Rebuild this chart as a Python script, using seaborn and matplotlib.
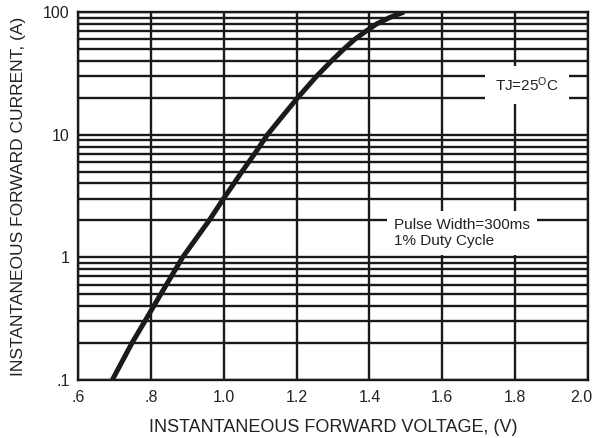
import numpy as np
import pandas as pd
import matplotlib
matplotlib.use("Agg")
import matplotlib.pyplot as plt
import matplotlib.ticker as mticker
import matplotlib.transforms as mtransforms
import seaborn as sns

# forward voltage (V) vs instantaneous forward current (A)
voltage = [0.694, 0.748, 0.783, 0.827, 0.887, 0.960, 0.999, 1.028, 1.050,
           1.085, 1.120, 1.160, 1.203, 1.255, 1.296, 1.330, 1.360, 1.391,
           1.420, 1.455, 1.495]
current = [0.1, 0.2, 0.3, 0.5, 1.0, 2.0, 3.0, 4.0, 5.0,
           7.0, 10.0, 14.0, 20.0, 30.0, 40.0, 50.0, 60.0, 70.0,
           80.0, 90.0, 100.0]

x_ticks = [0.6, 0.8, 1.0, 1.2, 1.4, 1.6, 1.8, 2.0]
x_tick_labels = [".6", ".8", "1.0", "1.2", "1.4", "1.6", "1.8", "2.0"]
y_ticks = [0.1, 1, 10, 100]
y_tick_labels = [".1", "1", "10", "100"]

df = pd.DataFrame({"Voltage": voltage, "Current": current})

sns.set_style("white")
plt.rcParams['font.family'] = ['Liberation Sans', 'DejaVu Sans']
plt.rcParams['mathtext.default'] = 'regular'

fig = plt.figure(figsize=(5.97, 4.38), dpi=100)
ax = fig.add_axes([0.1307, 0.1324, 0.8543, 0.8402])

ax.set_yscale("log")
ax.set_xlim(0.6, 2.0)
ax.set_ylim(0.1, 100)

# grid: every 0.2 V vertically, every 1..9 per decade horizontally
ax.set_xticks(x_ticks)
ax.set_xticklabels(x_tick_labels)
ax.set_yticks(y_ticks)
ax.set_yticklabels(y_tick_labels)
ax.yaxis.set_minor_locator(mticker.LogLocator(base=10, subs=np.arange(2, 10)))
ax.yaxis.set_minor_formatter(mticker.NullFormatter())
ax.grid(True, which="both", axis="both", color="#1a1a1a", linewidth=1.7)
ax.tick_params(axis="both", which="both", length=0, labelsize=11.5, colors="#222222")
ax.tick_params(axis="x", pad=7)
ax.tick_params(axis="y", pad=6)
ax.set_axisbelow(True)

# last x label sits a little inside the figure edge, as in the original
shift = mtransforms.ScaledTranslation(-5 / 72, 0, fig.dpi_scale_trans)
last = ax.get_xticklabels()[-1]
last.set_transform(last.get_transform() + shift)

for s in ax.spines.values():
    s.set_color("#1a1a1a")
    s.set_linewidth(1.7)

sns.lineplot(data=df, x="Voltage", y="Current", ax=ax, color="#1a1a1a",
             linewidth=3.6, zorder=5, solid_capstyle="butt")

ax.set_xlabel("INSTANTANEOUS FORWARD VOLTAGE, (V)", fontsize=13, color="#222222", labelpad=10)
ax.set_ylabel("INSTANTANEOUS FORWARD CURRENT, (A)", fontsize=12.5, color="#222222", labelpad=12)

ax.text(1.832, 25.5, "TJ=25$^{O}$C", fontsize=11, color="#222222",
        ha="center", va="center", zorder=6,
        bbox=dict(facecolor="white", edgecolor="none", pad=7))
ax.text(1.468, 1.58, "Pulse Width=300ms\n1% Duty Cycle", fontsize=11, color="#222222",
        ha="left", va="center", linespacing=1.2, zorder=6,
        bbox=dict(facecolor="white", edgecolor="none", pad=5))

fig.savefig("out.png", dpi=100)
